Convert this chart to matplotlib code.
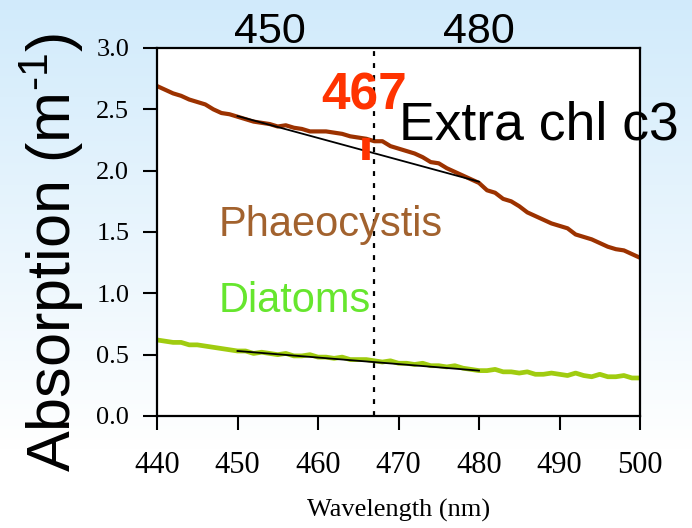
import numpy as np
import matplotlib
matplotlib.use("Agg")
import matplotlib.pyplot as plt

# Wavelength grid (nm) and absorption spectra
wavelength = list(range(440, 501))

phaeocystis = [
    2.69, 2.66, 2.63, 2.61, 2.58, 2.56, 2.54, 2.50, 2.47, 2.46,
    2.44, 2.42, 2.40, 2.39, 2.38, 2.36, 2.37, 2.35, 2.34, 2.32,
    2.32, 2.32, 2.31, 2.30, 2.28, 2.27, 2.26, 2.24, 2.24, 2.20,
    2.18, 2.16, 2.14, 2.11, 2.07, 2.06, 2.02, 1.99, 1.96, 1.93,
    1.90, 1.84, 1.82, 1.77, 1.75, 1.71, 1.66, 1.63, 1.60, 1.57,
    1.55, 1.53, 1.48, 1.46, 1.44, 1.41, 1.38, 1.36, 1.35, 1.32,
    1.29,
]

diatoms = [
    0.62, 0.61, 0.60, 0.60, 0.58, 0.58, 0.57, 0.56, 0.55, 0.54,
    0.53, 0.53, 0.51, 0.52, 0.51, 0.50, 0.51, 0.49, 0.49, 0.50,
    0.48, 0.48, 0.47, 0.48, 0.46, 0.46, 0.46, 0.45, 0.44, 0.45,
    0.43, 0.43, 0.42, 0.43, 0.41, 0.41, 0.40, 0.41, 0.39, 0.38,
    0.37, 0.37, 0.38, 0.36, 0.36, 0.35, 0.36, 0.34, 0.34, 0.35,
    0.34, 0.33, 0.35, 0.33, 0.32, 0.34, 0.32, 0.32, 0.33, 0.31,
    0.31,
]

# Straight baselines drawn under the 450-480 nm window
fit_x = [450, 480]
phaeo_fit = [2.445, 1.91]
diatom_fit = [0.53, 0.37]

# Extra chl c3 marker
peak_nm = 467
bar_x = 466
bar_y = [2.09, 2.27]

x_ticks = [440, 450, 460, 470, 480, 490, 500]
y_ticks = [0.0, 0.5, 1.0, 1.5, 2.0, 2.5, 3.0]
top_labels = ["450", "480"]

plt.rcParams['mathtext.fontset'] = 'custom'
plt.rcParams['mathtext.rm'] = 'Liberation Sans'
plt.rcParams['mathtext.it'] = 'Liberation Sans'

fig = plt.figure(figsize=(6.92, 5.28), dpi=100)

# Light blue to white background gradient
bg = fig.add_axes([0, 0, 1, 1], zorder=-10)
grad = np.linspace(0, 1, 256).reshape(-1, 1)
top_col = np.array([0.82, 0.92, 0.985])
bot_col = np.array([1.0, 1.0, 1.0])
mix = np.clip(grad / 0.85, 0, 1)
img = top_col * (1 - mix)[..., None] + bot_col * mix[..., None]
bg.imshow(img.reshape(256, 1, 3), aspect='auto', extent=[0, 1, 0, 1])
bg.axis('off')

ax = fig.add_axes([157 / 692, 1 - 416 / 528, (640 - 157) / 692, (416 - 48) / 528])
ax.set_facecolor('white')

ax.plot(wavelength, phaeocystis, color='#9C3200', lw=3.0, solid_capstyle='butt')
ax.plot(wavelength, diatoms, color='#A0CC10', lw=3.4, solid_capstyle='butt')
ax.plot(fit_x, phaeo_fit, color='black', lw=1.3)
ax.plot(fit_x, diatom_fit, color='black', lw=1.3)
ax.axvline(peak_nm, color='black', lw=1.6, linestyle=(0, (2.2, 3.2)))
ax.plot([bar_x, bar_x], bar_y, color='#FF3300', lw=5.5, solid_capstyle='butt')

ax.set_xlim(440, 500)
ax.set_ylim(0, 3.0)
ax.set_xticks(x_ticks)
ax.set_yticks(y_ticks)
ax.set_xticklabels([str(v) for v in x_ticks], family='Liberation Serif', fontsize=22)
ax.set_yticklabels([f"{v:.1f}" for v in y_ticks], family='Liberation Serif', fontsize=19)
ax.tick_params(axis='x', direction='out', length=10, width=1.5, pad=15)
ax.tick_params(axis='y', direction='out', length=10, width=1.5, pad=10)
for s in ax.spines.values():
    s.set_linewidth(1.6)

ax.set_xlabel('Wavelength (nm)', family='Liberation Serif', fontsize=19, labelpad=14)

# annotations
ax.text(peak_nm - 6.6, 2.5, str(peak_nm), color='#FF3300', fontsize=37,
        fontweight='bold', family='Liberation Sans', va='baseline')
ax.text(470.1, 2.25, 'Extra chl c3', color='black', fontsize=38.5,
        family='Liberation Sans', va='baseline', clip_on=False)
ax.text(447.6, 1.47, 'Phaeocystis', color='#A2622E', fontsize=30,
        family='Liberation Sans', va='baseline')
ax.text(447.6, 0.85, 'Diatoms', color='#66E62E', fontsize=30,
        family='Liberation Sans', va='baseline')

fig.text(270 / 692, 1 - 32 / 528, top_labels[0], fontsize=31, family='Liberation Sans',
         ha='center', va='center')
fig.text(479 / 692, 1 - 32 / 528, top_labels[1], fontsize=31, family='Liberation Sans',
         ha='center', va='center')

fig.text(52 / 692, 1 - 252 / 528, 'Absorption (m$^{\\mathregular{\u2010}1}$)', fontsize=44,
         family='Liberation Sans', rotation=90, ha='center', va='center')

fig.savefig('out.png', dpi=100)
